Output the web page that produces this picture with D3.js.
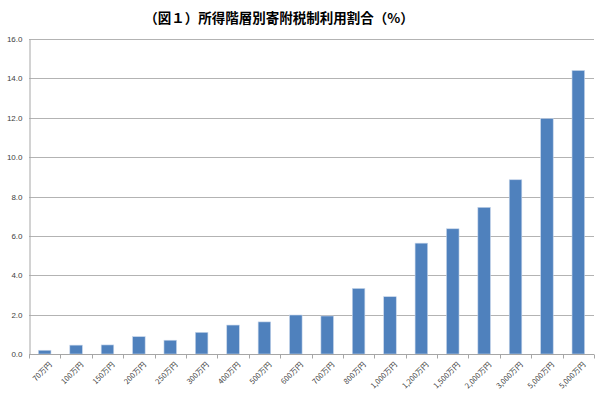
<!doctype html>
<html lang="ja">
  <head>
    <meta charset="utf-8">
    <title>所得階層別寄附税制利用割合</title>
    <script src="https://d3js.org/d3.v7.min.js"></script>
    <style>
      body { margin: 0; background: #fff; }
      svg { display: block; font-family: "Noto Sans CJK JP", "Noto Sans", sans-serif; }
    </style>
  </head>
  <body>
    <svg width="600" height="397"></svg>
    <script>
      // 所得階層（ラベルは図のまま）
      var categories = ["70万円", "100万円", "150万円", "200万円", "250万円", "300万円",
                        "400万円", "500万円", "600万円", "700万円", "800万円", "1,000万円",
                        "1,200万円", "1,500万円", "2,000万円", "3,000万円", "5,000万円", "5,000万円"];
      var values = [0.19, 0.45, 0.46, 0.88, 0.70, 1.10, 1.47, 1.63, 1.98, 1.93,
                    3.33, 2.91, 5.63, 6.36, 7.45, 8.85, 11.96, 14.40];
      var yTicks = [0, 2, 4, 6, 8, 10, 12, 14, 16];
      var title = "（図１）所得階層別寄附税制利用割合（%）";

      var svg = d3.select("svg"),
          margin = {top: 39, right: 6, bottom: 43, left: 29},
          width = +svg.attr("width") - margin.left - margin.right,
          height = +svg.attr("height") - margin.top - margin.bottom,
          g = svg.append("g").attr("transform", "translate(" + margin.left + "," + margin.top + ")");

      var x = d3.scaleBand()
                .domain(d3.range(categories.length))
                .range([0, width])
                .paddingInner(0.6)
                .paddingOuter(0.3);
      var y = d3.scaleLinear()
                .domain([0, 16])
                .range([height, 0]);

      svg.append("text")
        .attr("x", 279)
        .attr("y", 23)
        .attr("text-anchor", "middle")
        .attr("font-size", "13.5px")
        .attr("font-weight", "bold")
        .attr("fill", "#000")
        .text(title);

      // 目盛線
      g.append("g")
        .selectAll("line")
        .data(yTicks.slice(1))
        .enter().append("line")
          .attr("x1", 0)
          .attr("x2", width)
          .attr("y1", function(d) { return Math.round(y(d)) + 0.5; })
          .attr("y2", function(d) { return Math.round(y(d)) + 0.5; })
          .attr("stroke", "#b3b3b3")
          .attr("stroke-width", 1);

      // y軸
      var yAxis = g.append("g")
          .attr("transform", "translate(0.5,0)")
          .call(d3.axisLeft(y).tickValues(yTicks).tickFormat(d3.format(".1f")).tickSize(0).tickPadding(7));
      yAxis.select(".domain").attr("stroke", "#a6a6a6");
      yAxis.selectAll("text")
          .attr("font-size", "8px")
          .attr("fill", "#404040")
          .attr("font-family", "Liberation Sans, Arial, sans-serif");

      // 棒
      g.append("g")
        .selectAll("rect")
        .data(values)
        .enter().append("rect")
          .attr("x", function(d, i) { return x(i); })
          .attr("y", function(d) { return y(d); })
          .attr("width", x.bandwidth())
          .attr("height", function(d) { return height - y(d); })
          .attr("fill", "#4f81bd")
          .attr("stroke", "#c6d5ea")
          .attr("stroke-width", 0.6);

      // x軸
      var xAxis = g.append("g")
          .attr("transform", "translate(0," + (Math.round(height) + 0.5) + ")");
      xAxis.append("line")
          .attr("x1", 0).attr("x2", width)
          .attr("stroke", "#a6a6a6");
      xAxis.selectAll(".tick")
        .data(d3.range(categories.length + 1))
        .enter().append("line")
          .attr("class", "tick")
          .attr("x1", function(d) { return Math.round(d * width / categories.length) + 0.5; })
          .attr("x2", function(d) { return Math.round(d * width / categories.length) + 0.5; })
          .attr("y1", 0)
          .attr("y2", 4)
          .attr("stroke", "#a6a6a6");
      xAxis.selectAll(".label")
        .data(categories)
        .enter().append("text")
          .attr("class", "label")
          .attr("transform", function(d, i) {
            return "translate(" + (x(i) + x.bandwidth() / 2 + 4) + ",7) rotate(-45)";
          })
          .attr("text-anchor", "end")
          .attr("dy", "0.7em")
          .attr("font-size", "7.5px")
          .attr("fill", "#404040")
          .text(function(d) { return d; });
    </script>
  </body>
</html>
